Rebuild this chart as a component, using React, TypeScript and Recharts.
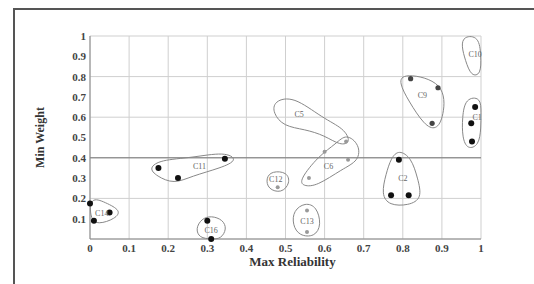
import {
  CartesianGrid,
  ReferenceLine,
  Scatter,
  ScatterChart,
  XAxis,
  YAxis,
} from "recharts";

const ticks = [0, 0.1, 0.2, 0.3, 0.4, 0.5, 0.6, 0.7, 0.8, 0.9, 1];
const yTicks = [0.1, 0.2, 0.3, 0.4, 0.5, 0.6, 0.7, 0.8, 0.9, 1];

// filled black solutions
const blackDots = [
  { x: 0.0, y: 0.175 },
  { x: 0.01, y: 0.09 },
  { x: 0.05, y: 0.13 },
  { x: 0.175, y: 0.35 },
  { x: 0.225, y: 0.3 },
  { x: 0.345, y: 0.395 },
  { x: 0.3, y: 0.09 },
  { x: 0.31, y: 0.0 },
  { x: 0.79, y: 0.39 },
  { x: 0.77, y: 0.215 },
  { x: 0.815, y: 0.215 },
  { x: 0.985, y: 0.65 },
  { x: 0.975, y: 0.57 },
  { x: 0.977, y: 0.48 },
];

const darkDots = [
  { x: 0.82, y: 0.79 },
  { x: 0.89, y: 0.745 },
  { x: 0.875, y: 0.57 },
];

const greyDots = [
  { x: 0.6, y: 0.43 },
  { x: 0.655, y: 0.48 },
  { x: 0.66, y: 0.39 },
  { x: 0.56, y: 0.3 },
  { x: 0.555, y: 0.14 },
  { x: 0.555, y: 0.035 },
  { x: 0.48, y: 0.255 },
];

const clusterLabels = [
  { x: 0.03, y: 0.13, name: "C14" },
  { x: 0.28, y: 0.36, name: "C11" },
  { x: 0.31, y: 0.045, name: "C16" },
  { x: 0.475, y: 0.295, name: "C12" },
  { x: 0.555, y: 0.09, name: "C13" },
  { x: 0.535, y: 0.615, name: "C5" },
  { x: 0.61, y: 0.36, name: "C6" },
  { x: 0.8, y: 0.3, name: "C2" },
  { x: 0.85, y: 0.71, name: "C9" },
  { x: 0.99, y: 0.6, name: "C1" },
  { x: 0.985, y: 0.91, name: "C10" },
];

// hand-drawn cluster outlines
const outlineC14 = [
  { x: 0.0, y: 0.21 }, { x: 0.04, y: 0.18 }, { x: 0.08, y: 0.14 },
  { x: 0.065, y: 0.1 }, { x: 0.02, y: 0.07 }, { x: 0.0, y: 0.1 },
];
const outlineC11 = [
  { x: 0.15, y: 0.35 }, { x: 0.18, y: 0.39 }, { x: 0.26, y: 0.4 },
  { x: 0.345, y: 0.43 }, { x: 0.38, y: 0.39 }, { x: 0.335, y: 0.35 },
  { x: 0.26, y: 0.31 }, { x: 0.215, y: 0.27 }, { x: 0.17, y: 0.31 },
];
const outlineC16 = [
  { x: 0.27, y: 0.05 }, { x: 0.285, y: 0.1 }, { x: 0.31, y: 0.115 },
  { x: 0.34, y: 0.095 }, { x: 0.35, y: 0.05 }, { x: 0.335, y: 0.0 },
  { x: 0.31, y: 0.0 }, { x: 0.28, y: 0.005 },
];
const outlineC12 = [
  { x: 0.45, y: 0.3 }, { x: 0.465, y: 0.335 }, { x: 0.505, y: 0.33 },
  { x: 0.512, y: 0.275 }, { x: 0.49, y: 0.225 }, { x: 0.455, y: 0.245 },
];
const outlineC13 = [
  { x: 0.52, y: 0.14 }, { x: 0.55, y: 0.18 }, { x: 0.58, y: 0.16 },
  { x: 0.592, y: 0.07 }, { x: 0.575, y: 0.01 }, { x: 0.535, y: 0.015 },
  { x: 0.518, y: 0.07 },
];
const outlineC5 = [
  { x: 0.47, y: 0.68 }, { x: 0.52, y: 0.705 }, { x: 0.595, y: 0.595 },
  { x: 0.65, y: 0.545 }, { x: 0.668, y: 0.475 }, { x: 0.64, y: 0.46 },
  { x: 0.6, y: 0.51 }, { x: 0.55, y: 0.54 }, { x: 0.495, y: 0.555 },
  { x: 0.468, y: 0.62 },
];
const outlineC6 = [
  { x: 0.535, y: 0.29 }, { x: 0.585, y: 0.41 }, { x: 0.63, y: 0.47 },
  { x: 0.655, y: 0.52 }, { x: 0.69, y: 0.465 }, { x: 0.688, y: 0.385 },
  { x: 0.645, y: 0.345 }, { x: 0.58, y: 0.26 }, { x: 0.545, y: 0.26 },
];
const outlineC2 = [
  { x: 0.79, y: 0.44 }, { x: 0.822, y: 0.4 }, { x: 0.838, y: 0.3 },
  { x: 0.85, y: 0.2 }, { x: 0.815, y: 0.165 }, { x: 0.765, y: 0.165 },
  { x: 0.745, y: 0.22 }, { x: 0.757, y: 0.32 }, { x: 0.77, y: 0.4 },
];
const outlineC9 = [
  { x: 0.8, y: 0.82 }, { x: 0.91, y: 0.775 }, { x: 0.905, y: 0.6 },
  { x: 0.885, y: 0.535 }, { x: 0.855, y: 0.56 }, { x: 0.815, y: 0.68 },
  { x: 0.79, y: 0.77 },
];
const outlineC1 = [
  { x: 0.96, y: 0.695 }, { x: 1.0, y: 0.7 }, { x: 1.0, y: 0.62 },
  { x: 1.0, y: 0.55 }, { x: 0.995, y: 0.46 }, { x: 0.965, y: 0.44 },
  { x: 0.952, y: 0.5 }, { x: 0.952, y: 0.6 },
];
const outlineC10 = [
  { x: 0.955, y: 1.0 }, { x: 0.995, y: 1.0 }, { x: 1.0, y: 0.9 },
  { x: 1.0, y: 0.81 }, { x: 0.975, y: 0.8 }, { x: 0.96, y: 0.88 },
  { x: 0.95, y: 0.95 },
];

const outlines = [
  outlineC14, outlineC11, outlineC16, outlineC12, outlineC13, outlineC5,
  outlineC6, outlineC2, outlineC9, outlineC1, outlineC10,
];

const serif = "'Liberation Serif', 'Times New Roman', serif";
const tickStyle = { fontFamily: serif, fontSize: 11, fontWeight: 700, fill: "#444" };

const dot = (r: number, color: string) => (p: any) => (
  <circle cx={p.cx} cy={p.cy} r={r} fill={color} />
);

export default function App() {
  return (
    <div style={{ position: "fixed", left: 0, top: 0, width: 534, height: 284, background: "#fff" }}>
      <div
        style={{
          position: "absolute",
          left: 13,
          top: 8,
          right: 0,
          bottom: 0,
          borderTop: "2px solid #555",
          borderLeft: "2px solid #555",
        }}
      />
      <div style={{ position: "absolute", left: 0, top: 0 }}>
        <ScatterChart
          width={534}
          height={284}
          margin={{ top: 36, right: 53, bottom: 15, left: 0 }}
        >
          <CartesianGrid stroke="#cfcfcf" />
          <XAxis
            type="number"
            dataKey="x"
            domain={[0, 1]}
            ticks={ticks}
            height={30}
            tickSize={0}
            tickMargin={5}
            tick={tickStyle}
            axisLine={{ stroke: "#888" }}
            tickFormatter={(v: number) => String(v)}
            label={{
              value: "Max Reliability",
              position: "insideBottom",
              offset: 3,
              dx: 7,
              style: { fontFamily: serif, fontSize: 13, fontWeight: 700, fill: "#333" },
            }}
          />
          <YAxis
            type="number"
            dataKey="y"
            domain={[0, 1]}
            ticks={yTicks}
            width={90}
            tickSize={0}
            tickMargin={4}
            tick={tickStyle}
            axisLine={{ stroke: "#888" }}
            tickFormatter={(v: number) => String(v)}
            label={{
              value: "Min Weight",
              angle: -90,
              position: "center",
              dx: -5,
              style: { fontFamily: serif, fontSize: 12, fontWeight: 700, fill: "#333" },
            }}
          />
          <ReferenceLine y={0.4} stroke="#777" strokeWidth={1} />
          {outlines.map((o, i) => (
            <Scatter
              key={i}
              data={o}
              isAnimationActive={false}
              line={{ stroke: "#888", strokeWidth: 1, fill: "none" }}
              lineJointType="basisClosed"
              shape={() => <g />}
            />
          ))}
          <Scatter data={greyDots} isAnimationActive={false} shape={dot(2, "#999")} />
          <Scatter data={darkDots} isAnimationActive={false} shape={dot(2.6, "#444")} />
          <Scatter data={blackDots} isAnimationActive={false} shape={dot(3, "#111")} />
          <Scatter
            data={clusterLabels}
            isAnimationActive={false}
            shape={(p: any) => (
              <text
                x={p.cx}
                y={p.cy}
                dy={3}
                textAnchor="middle"
                fontFamily={serif}
                fontSize={8}
                fill="#666"
              >
                {p.payload.name}
              </text>
            )}
          />
        </ScatterChart>
      </div>
    </div>
  );
}
